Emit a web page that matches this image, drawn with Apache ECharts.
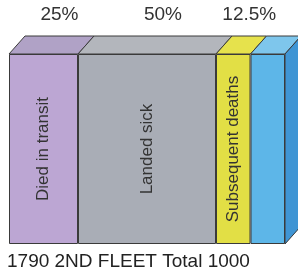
<!DOCTYPE html>
<html>
<head>
<meta charset="utf-8">
<script src="https://cdn.jsdelivr.net/npm/echarts@6/dist/echarts.min.js"></script>
<style>
  html, body { margin: 0; padding: 0; background: #fff; }
  #chart { width: 298px; height: 272px; }
</style>
</head>
<body>
<div id="chart"></div>
<script>
// segment names (written vertically inside the bars)
const categories = ["Died in transit", "Landed sick", "Subsequent deaths", ""];
// share of the fleet, percent
const values = [25, 50, 12.5, 12.5];
// labels printed above each segment
const pctLabels = ["25%", "50%", "12.5%", ""];
const footer = "1790 2ND FLEET Total 1000";

const frontColors = ["#bca6d3", "#a9adb6", "#e2df45", "#5db6e8"];
const topColors = ["#b0a2c6", "#b3b6bc", "#e6e24c", "#7ec6ec"];
const sideColor = "#3f95d4";
const edge = "#3a3a3a";
const depthX = 16;
const depthY = 18;

const chart = echarts.init(document.getElementById("chart"));

// start / end of each segment along the bar
let acc = 0;
const faces = values.map((v, i) => {
  const item = [acc, acc + v, i];
  acc += v;
  return item;
});

const barSeries = values.map((v, i) => ({
  name: categories[i],
  type: "bar",
  stack: "fleet",
  barWidth: "100%",
  data: [v],
  itemStyle: { color: frontColors[i], borderColor: edge, borderWidth: 1 },
  label: {
    show: categories[i] !== "",
    position: "inside",
    rotate: 90,
    formatter: categories[i],
    fontFamily: "Liberation Sans, Arial",
    fontSize: 17,
    color: "#333",
  },
  silent: true,
}));

chart.setOption({
  animation: false,
  title: {
    text: footer,
    left: 7,
    top: 252,
    padding: 0,
    textStyle: {
      fontFamily: "Liberation Sans, Arial",
      fontSize: 19,
      fontWeight: "normal",
      color: "#222",
    },
  },
  grid: { left: 9, right: 13, top: 54, bottom: 28 },
  xAxis: { type: "value", min: 0, max: 100, show: false },
  yAxis: { type: "category", data: ["fleet"], show: false },
  series: barSeries.concat([
    {
      type: "custom",
      silent: true,
      data: faces,
      renderItem(params, api) {
        const i = api.value(2);
        const p0 = api.coord([api.value(0), 0]);
        const p1 = api.coord([api.value(1), 0]);
        const h = api.size([0, 1])[1];
        const top = p0[1] - h / 2;
        const bottom = p0[1] + h / 2;
        const x0 = p0[0];
        const x1 = p1[0];
        const children = [
          {
            type: "polygon",
            shape: {
              points: [
                [x0, top],
                [x1, top],
                [x1 + depthX, top - depthY],
                [x0 + depthX, top - depthY],
              ],
            },
            style: { fill: topColors[i], stroke: edge, lineWidth: 1 },
          },
        ];
        if (i === values.length - 1) {
          children.push({
            type: "polygon",
            shape: {
              points: [
                [x1, top],
                [x1 + depthX, top - depthY],
                [x1 + depthX, bottom - depthY],
                [x1, bottom],
              ],
            },
            style: { fill: sideColor, stroke: edge, lineWidth: 1 },
          });
        }
        if (pctLabels[i]) {
          children.push({
            type: "text",
            style: {
              text: pctLabels[i],
              x: (x0 + x1) / 2 + depthX,
              y: top - depthY - 21,
              align: "center",
              verticalAlign: "middle",
              fontFamily: "Liberation Sans, Arial",
              fontSize: 19,
              fill: "#333",
            },
          });
        }
        return { type: "group", children };
      },
    },
  ]),
});
</script>
</body>
</html>
